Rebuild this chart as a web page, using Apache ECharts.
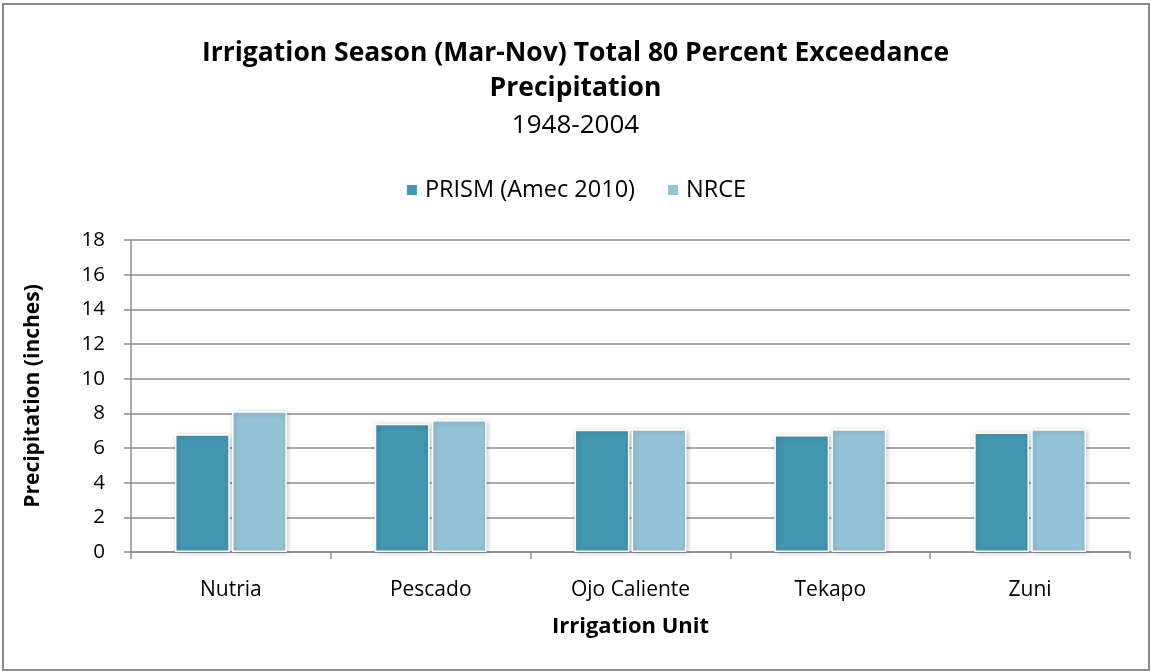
<!DOCTYPE html>
<html>
<head>
<meta charset="utf-8">
<script src="https://cdn.jsdelivr.net/npm/echarts@6/dist/echarts.min.js"></script>
<style>
	html, body { margin: 0; padding: 0; background: #fff; }
	#frame { position: absolute; left: 2px; top: 3px; width: 1144px; height: 664px; border: 2px solid #8c8c8c; }
	#chart { position: absolute; left: 0; top: 0; width: 1151px; height: 671px; }
</style>
</head>
<body>
<div id="frame"></div>
<div id="chart"></div>
<script>
// Data
var units = ['Nutria', 'Pescado', 'Ojo Caliente', 'Tekapo', 'Zuni'];
var prism = [6.8, 7.4, 7.05, 6.75, 6.9];
var nrce = [8.12, 7.62, 7.08, 7.08, 7.08];
var seriesNames = ['PRISM (Amec 2010)', 'NRCE'];
// Look
var font = 'Open Sans';
var colors = ['#4397b0', '#93c3d5'];

var chart = echarts.init(document.getElementById('chart'), '', { renderer: 'canvas' });

function BarSeries(name, data, color) {	// one bar series with white edge + soft shadow
	return {
		name: name,
		type: 'bar',
		data: data,
		barGap: '4%',
		barCategoryGap: '44%',
		itemStyle: {
			color: color,
			borderColor: '#fff',
			borderWidth: 1.5,
			shadowColor: 'rgba(0,0,0,0.25)',
			shadowBlur: 5,
			shadowOffsetX: 1,
			shadowOffsetY: 1
		}
	};
}

chart.setOption({
	animation: false,
	title: [{
		text: 'Irrigation Season (Mar-Nov) Total 80 Percent Exceedance\nPrecipitation',
		left: 'center',
		top: 31,
		textStyle: { fontFamily: font, fontWeight: 'bold', fontSize: 26.5, color: '#000', lineHeight: 35 }
	}, {
		text: '1948-2004',
		left: 'center',
		top: 106,
		textStyle: { fontFamily: font, fontWeight: 'normal', fontSize: 26, color: '#000', lineHeight: 30 }
	}],
	legend: {
		top: 173,
		left: 'center',
		itemWidth: 12,
		itemHeight: 12,
		itemGap: 31,
		icon: 'rect',
		data: seriesNames,
		textStyle: { fontFamily: font, fontSize: 23.5, color: '#000', padding: [0, 0, 0, 2] }
	},
	grid: { left: 131, right: 21, top: 240, bottom: 119 },
	xAxis: {
		type: 'category',
		data: units,
		name: 'Irrigation Unit',
		nameLocation: 'middle',
		nameGap: 64,
		nameTextStyle: { fontFamily: font, fontWeight: 'bold', fontSize: 22, color: '#000' },
		axisLine: { lineStyle: { color: '#8c8c8c', width: 1.5 } },
		axisTick: { show: true, length: 7, lineStyle: { color: '#8c8c8c', width: 1.5 } },
		axisLabel: { fontFamily: font, fontSize: 21, color: '#000', margin: 28 }
	},
	yAxis: {
		type: 'value',
		min: 0,
		max: 18,
		interval: 2,
		name: 'Precipitation (inches)',
		nameLocation: 'middle',
		nameGap: 87,
		nameTextStyle: { fontFamily: font, fontWeight: 'bold', fontSize: 21, color: '#000' },
		axisLine: { show: true, lineStyle: { color: '#8c8c8c', width: 1.5 } },
		axisTick: { show: true, length: 7, lineStyle: { color: '#8c8c8c', width: 1.5 } },
		axisLabel: { fontFamily: font, fontSize: 20.5, color: '#000', margin: 26 },
		splitLine: { lineStyle: { color: '#8c8c8c', width: 1.5 } }
	},
	series: [
		BarSeries(seriesNames[0], prism, colors[0]),
		BarSeries(seriesNames[1], nrce, colors[1])
	]
});
</script>
</body>
</html>
